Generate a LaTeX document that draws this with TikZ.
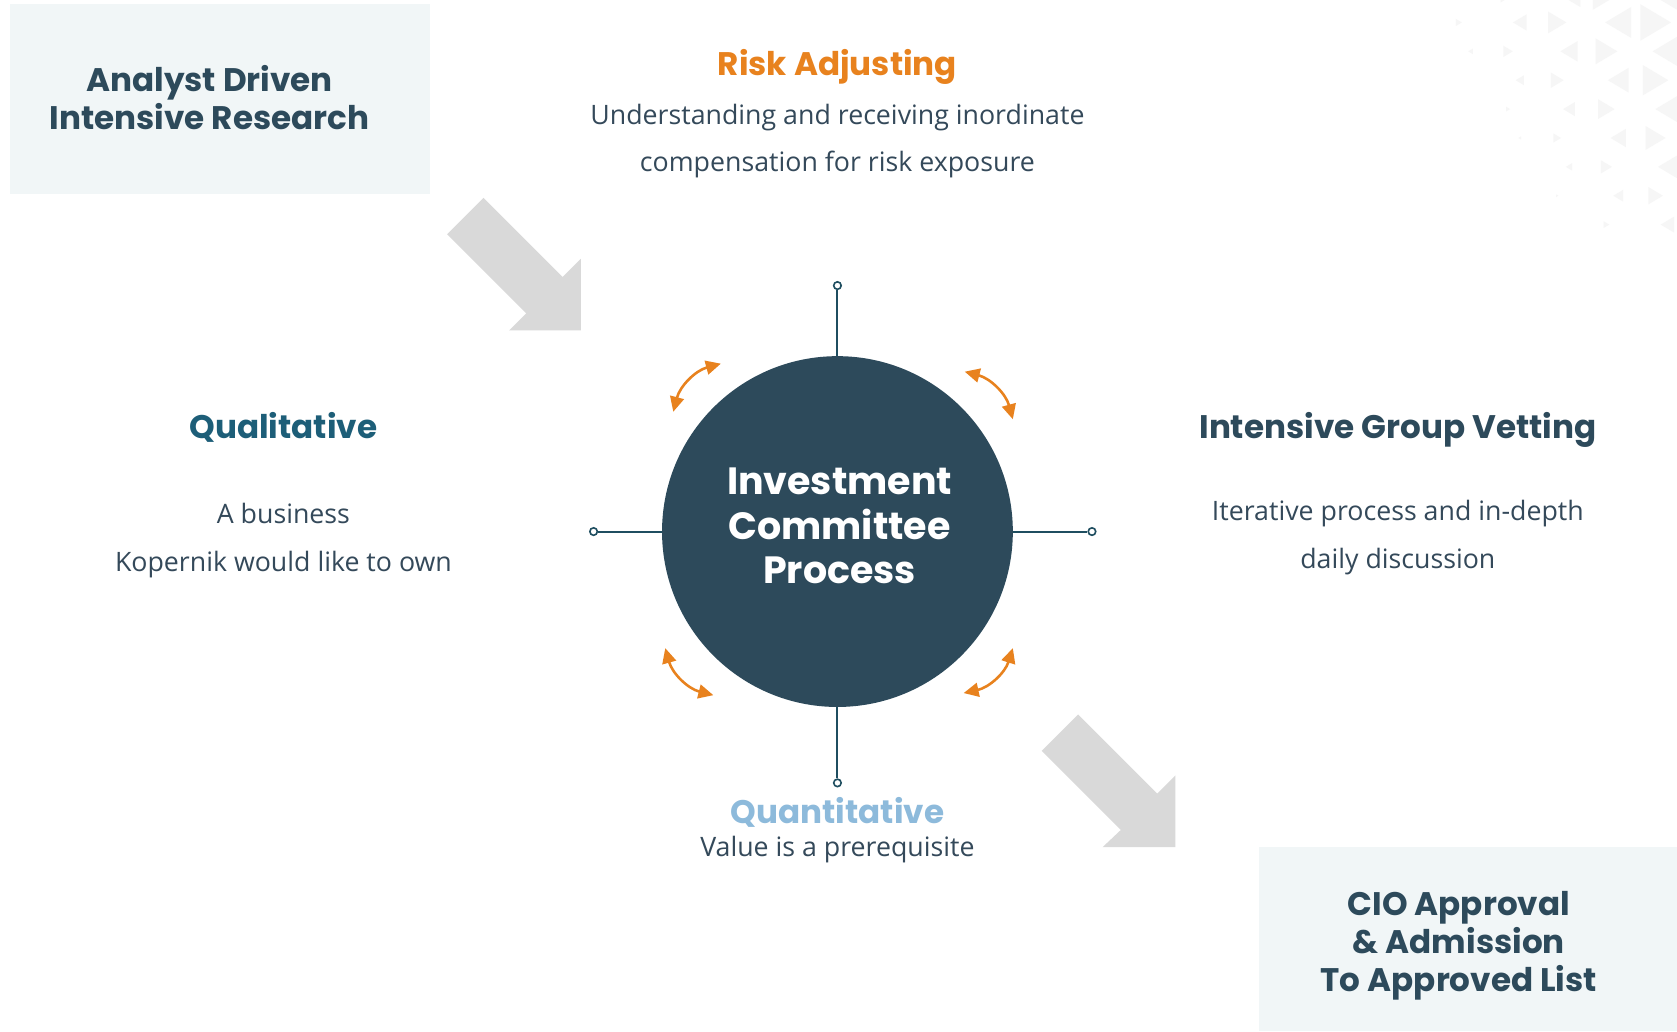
\documentclass[tikz,border=0pt]{standalone}
\usepackage{fontspec}
\setmainfont{Open Sans}
\newfontfamily\headfont{Poppins}
\usetikzlibrary{arrows.meta}
\definecolor{navy}{HTML}{2D4A5B}
\definecolor{bodytxt}{HTML}{34495A}
\definecolor{orangeacc}{HTML}{E8821E}
\definecolor{tealtxt}{HTML}{1D5E78}
\definecolor{skyblue}{HTML}{8DBADB}
\definecolor{panelfill}{HTML}{F1F6F7}
\definecolor{arrowgray}{HTML}{D9D9D9}
\definecolor{spoke}{HTML}{1F4E60}
\definecolor{decofill}{HTML}{F6F6F6}
\begin{document}
\begin{tikzpicture}[x=1pt,y=-1pt,
  heading/.style={font=\headfont\bfseries\fontsize{30.5}{35}\selectfont, align=center, inner sep=0pt, anchor=base},
  boxhead/.style={heading, font=\headfont\bfseries\fontsize{30.5}{35.5}\selectfont, text=navy},
  corehead/.style={font=\headfont\bfseries\fontsize{35.5}{42}\selectfont, align=center, inner sep=0pt, anchor=base, text=white},
  body/.style={font=\fontsize{25}{44.5}\selectfont, text=bodytxt, align=center, inner sep=0pt, anchor=base},
  panel/.style={fill=panelfill, draw=none, inner sep=0pt},
  blockarrow/.style={fill=arrowgray, draw=none},
  pin/.style={circle, draw=spoke, line width=1.5pt, fill=white, inner sep=0pt, minimum size=7pt},
  spokeline/.style={draw=spoke, line width=1.8pt},
  swing/.style={draw=orangeacc, line width=2.4pt, {Triangle[length=14pt,width=13pt]}-{Triangle[length=14pt,width=13pt]}},
  deco/.style={fill=decofill, draw=none},
]
\useasboundingbox (0,0) rectangle (1568,964);
\fill[white] (0,0) rectangle (1568,964);

% faint triangle decoration, top right
\begin{scope}
\clip (1250,0) rectangle (1568,230);
\foreach \r in {-1,...,8}{
  \pgfmathsetmacro\yy{21+27*\r}
  \pgfmathsetmacro\off{mod(\r+2,2)*46}
  \foreach \k in {0,1,2,3}{
    \pgfmathsetmacro\xl{1237+\off+92*\k}
    \pgfmathsetmacro\xr{\xl+35}
    \pgfmathsetmacro\hl{(\xl-1320)*0.15-3*\r}
    \pgfmathsetmacro\hr{(\xr-1320)*0.15-3*\r}
    \ifdim\hl pt>1.5pt
      \fill[deco] (\xl+\hl*0.42,\yy-\hl/2) -- (\xl-\hl*0.42,\yy) -- (\xl+\hl*0.42,\yy+\hl/2) -- cycle;
    \fi
    \ifdim\hr pt>1.5pt
      \fill[deco] (\xr-\hr*0.42,\yy-\hr/2) -- (\xr+\hr*0.42,\yy) -- (\xr-\hr*0.42,\yy+\hr/2) -- cycle;
    \fi
  }
}
\end{scope}

% panels
\node[panel, minimum width=393pt, minimum height=177pt] (researchbox) at (205.5,92.5) {};
\node[boxhead] (research) at (196,121) {Analyst Driven\\Intensive Research};
\node[panel, minimum width=391pt, minimum height=172pt] (ciobox) at (1372.5,878) {};
\node[boxhead] (cio) at (1364,927) {CIO Approval\\\& Admission\\To Approved List};

% block arrows
\fill[blockarrow] (452,185) -- (526,259) -- (543,242) -- (543,309) -- (476,309) -- (492,293) -- (418,219) -- cycle;
\fill[blockarrow] (1008,668) -- (1082,742) -- (1099,725) -- (1099,792) -- (1031,792) -- (1048,776) -- (974,702) -- cycle;

% core circle
\node[circle, fill=navy, minimum size=328pt, inner sep=0pt] (core) at (783,497) {};
\node[corehead] (coretext) at (785,546) {Investment\\Committee\\Process};

% spokes
\node[pin] (pinN) at (783,267) {};
\node[pin] (pinS) at (783,732) {};
\node[pin] (pinW) at (555,497) {};
\node[pin] (pinE) at (1021,497) {};
\draw[spokeline] (pinN) -- (core.north);
\draw[spokeline] (pinS) -- (core.south);
\draw[spokeline] (pinW) -- (core.west);
\draw[spokeline] (pinE) -- (core.east);

% orange swing arrows
\coordinate (tlA) at (629.5,385); \coordinate (tlB) at (674,340);
\coordinate (trA) at (902,347.5); \coordinate (trB) at (947,392);
\coordinate (brA) at (947,606);   \coordinate (brB) at (901,648);
\coordinate (blA) at (667,650);   \coordinate (blB) at (622,606);
\draw[swing] (tlA) to[bend left=30] (tlB);
\draw[swing] (trA) to[bend left=30] (trB);
\draw[swing] (brA) to[bend left=30] (brB);
\draw[swing] (blA) to[bend left=30] (blB);

% labels
\node[heading, text=orangeacc] (risk) at (783,71) {Risk Adjusting};
\node[body] (riskbody) at (783,160.5) {Understanding and receiving inordinate\\compensation for risk exposure};
\node[heading, text=tealtxt] (qual) at (265,410) {Qualitative};
\node[body] (qualbody) at (265,534) {A business\\Kopernik would like to own};
\node[heading, text=navy] (vet) at (1307,410) {Intensive Group Vetting};
\node[body] (vetbody) at (1307,531.5) {Iterative process and in-depth\\daily discussion};
\node[heading, text=skyblue] (quant) at (783,770) {Quantitative};
\node[body] (quantbody) at (783,801) {Value is a prerequisite};
\end{tikzpicture}
\end{document}
